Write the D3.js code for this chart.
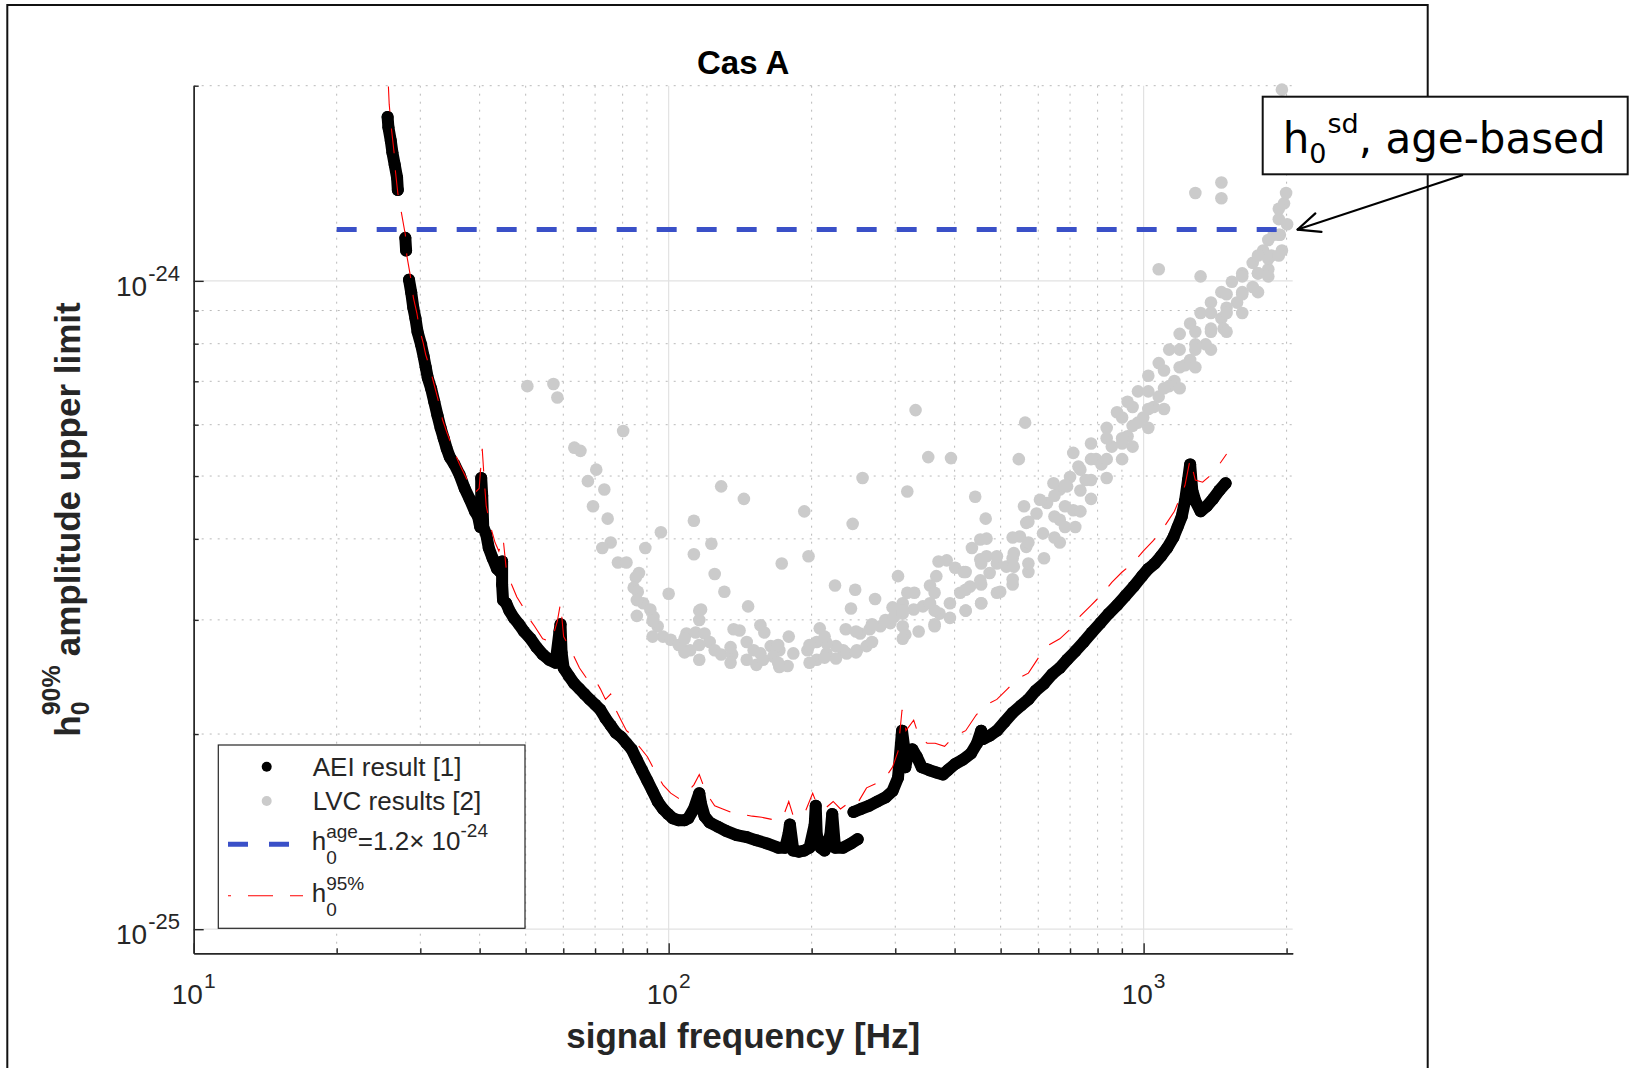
<!DOCTYPE html>
<html>
<head>
<meta charset="utf-8">
<script src="https://cdn.jsdelivr.net/npm/d3@7"></script>
<style>
  html, body { margin: 0; padding: 0; background: #fff; }
  svg { display: block; font-family: "Liberation Sans", Arial, Helvetica, sans-serif; }
  text { white-space: pre; }
</style>
</head>
<body>
<svg id="chart" width="1637" height="1068"></svg>
<script>
// ---------------------------------------------------------------------------
// Cas A: 90% confidence upper limits on the strain amplitude h0
// Amplitudes below are in units of 1e-25, frequencies in Hz.
// ---------------------------------------------------------------------------
const AMP_UNIT = 1e-25;

// AEI search result; null marks a gap between analysed bands
const aeiFreq = [
  25.6, 25.7, 26.0, 26.2, 26.5, 26.8, 26.9, null,
  27.9, 28.0, null,
  28.4, 28.7, 29.0, 29.3, 29.6, 30.1, 30.5, 30.8, 31.1, 31.6,
  32.1, 32.6, 33.1, 33.6, 34.1, 34.6, 35.4, 36.3, 37.2, 38.1,
  39.1, 39.7, 40.1, 40.3, 40.3, 40.5, 40.7, 41.3, 41.8, 42.6,
  43.5, 44.2, 44.6, 44.6, 44.8, 45.5, 46.2, 47.2, 48.4, 49.6,
  51.2, 52.7, 54.3, 56.0, 57.8, 58.9, 59.2, 59.5, 60.1, 61.7,
  63.3, 64.9, 66.5, 68.2, 70.0, 71.8, 73.6, 75.5, 77.4, 79.4,
  81.5, 83.6, 85.7, 87.9, 90.2, 92.5, 94.8, 97.3, 99.7, 102,
  105, 108, 110, 113, 116, 117, 119, 122, 127, 132,
  139, 146, 153, 161, 170, 176, 179, 180, 183, 188,
  193, 198, 203, 204, 205, 209, 213, 219, 221, 224,
  233, 242, 250, null,
  245, 254, 264, 275, 286, 296, 304, 310, 313, 315,
  319, 326, 333, 341, 354, 366, 378, 387, 401, 416,
  433, 446, 455, 460, 474, 491, 509, 530, 552, 572,
  592, 617, 642, 666, 690, 718, 748, 778, 811, 844,
  879, 915, 953, 992, 1023, 1055, 1087, 1121, 1155, 1179,
  1203, 1222, 1240, 1253, 1266, 1285, 1318, 1358, 1400, 1443, 1488
];
const aeiAmp = [
  17.9, 17.26, 16.45, 15.79, 15.10, 14.44, 13.81, null,
  11.65, 11.14, null,
  10.04, 9.608, 9.087, 8.757, 8.345, 7.982, 7.635, 7.357, 7.089, 6.831,
  6.510, 6.203, 5.933, 5.718, 5.509, 5.348, 5.211, 5.021, 4.784, 4.610,
  4.411, 4.330, 4.173, 4.576, 4.966, 4.662, 4.173, 4.064, 3.873, 3.733,
  3.597, 3.556, 3.691, 3.402, 3.218, 3.182, 3.100, 3.021, 2.954, 2.879,
  2.805, 2.723, 2.653, 2.604, 2.576, 2.879, 2.954, 2.673, 2.529, 2.455,
  2.392, 2.348, 2.305, 2.262, 2.221, 2.180, 2.116, 2.062, 2.009, 1.980,
  1.936, 1.894, 1.825, 1.759, 1.694, 1.633, 1.574, 1.533, 1.505, 1.483,
  1.472, 1.472, 1.483, 1.533, 1.621, 1.561, 1.494, 1.461, 1.439, 1.418,
  1.397, 1.387, 1.371, 1.356, 1.336, 1.336, 1.408, 1.450, 1.322, 1.317,
  1.322, 1.336, 1.450, 1.550, 1.397, 1.336, 1.322, 1.397, 1.505, 1.336,
  1.336, 1.356, 1.377, null,
  1.516, 1.533, 1.550, 1.574, 1.597, 1.633, 1.713, 2.024, 1.915, 1.778,
  1.866, 1.894, 1.845, 1.778, 1.759, 1.745, 1.732, 1.759, 1.798, 1.825,
  1.866, 1.936, 2.024, 1.966, 1.988, 2.024, 2.085, 2.157, 2.213, 2.262,
  2.331, 2.392, 2.474, 2.529, 2.604, 2.683, 2.774, 2.868, 2.966, 3.067,
  3.159, 3.266, 3.377, 3.504, 3.597, 3.664, 3.760, 3.873, 4.019, 4.173,
  4.330, 4.576, 4.929, 5.211, 4.750, 4.576, 4.411, 4.492, 4.610, 4.750, 4.874
];

// 95% confidence upper limit
const h95Freq = [
  25.7, 25.8, 26.1, 26.4, 26.6, 26.9, 27.4, 27.9, 28.1, 28.6,
  29.0, 29.5, 29.9, 30.4, 30.8, 31.3, 31.8, 32.4, 33.0, 33.4,
  34.1, 34.8, 35.5, 36.3, 37.2, 38.1, 39.1, 39.9, 40.5, 40.9,
  41.3, 42.2, 43.1, 43.9, 44.8, 45.5, 46.7, 47.9, 49.1, 50.4,
  52.2, 54.3, 56.6, 58.3, 59.2, 60.1, 62.6, 64.9, 67.2, 69.3,
  71.8, 73.6, 75.5, 77.4, 79.4, 81.5, 84.0, 86.6, 90.2, 93.9,
  97.3, 101, 105, 109, 113, 116, 120, 125, 130, 135,
  142, 150, 157, 165, 174, 179, 183, 193, 201, 205,
  213, 222, 230, 238, 248, 261, 275, 286, 296, 304,
  310, 316, 328, 336, 350, 364, 381, 401, 422, 444,
  467, 491, 517, 544, 572, 601, 632, 666, 700, 736,
  775, 815, 857, 901, 948, 998, 1049, 1104, 1161, 1222,
  1253, 1285, 1331, 1386, 1443, 1495
];
const h95Amp = [
  19.94, 18.73, 17.07, 15.85, 14.72, 13.66, 12.69, 11.78, 10.94, 10.16,
  9.432, 8.921, 8.407, 8.041, 7.691, 7.411, 7.089, 6.730, 6.391, 6.111,
  5.845, 5.613, 5.408, 5.211, 5.021, 4.838, 4.714, 4.784, 5.509, 4.929,
  4.492, 4.173, 3.948, 3.830, 4.019, 3.597, 3.402, 3.254, 3.159, 3.043,
  2.933, 2.805, 2.774, 2.987, 3.182, 2.827, 2.673, 2.529, 2.437, 2.455,
  2.348, 2.262, 2.305, 2.180, 2.101, 2.024, 1.988, 1.915, 1.845, 1.745,
  1.670, 1.621, 1.591, 1.621, 1.670, 1.732, 1.621, 1.550, 1.533, 1.516,
  1.505, 1.494, 1.488, 1.477, 1.488, 1.574, 1.494, 1.505, 1.621, 1.561,
  1.533, 1.574, 1.533, 1.561, 1.550, 1.652, 1.682, 1.713, 1.778, 1.880,
  2.180, 2.024, 2.101, 1.988, 1.936, 1.936, 1.915, 1.988, 2.024, 2.140,
  2.221, 2.262, 2.348, 2.437, 2.483, 2.624, 2.744, 2.805, 2.901, 3.043,
  3.159, 3.279, 3.427, 3.556, 3.664, 3.830, 3.978, 4.173, 4.411, 4.838,
  5.309, 4.929, 4.892, 5.021, 5.211, 5.408
];

// LVC results
const lvcFreq = [
  50.4, 57.2, 58.3, 63.3, 65.2, 80.2, 70.4, 67.6, 73.2, 69.3,
  74.4, 75.5, 72.5, 78.2, 81.5, 86.6, 85.3, 84.4, 86.1, 89.3,
  96.3, 100, 88.4, 91.5, 92.9, 94.8, 97.3, 101, 105, 108,
  111, 109, 114, 113, 113, 123, 125, 129, 131, 116,
  117, 116, 119, 122, 125, 129, 136, 137, 141, 144,
  147, 156, 159, 151, 156, 164, 171, 166, 153, 158,
  171, 178, 179, 173, 193, 197, 183, 196, 205, 215,
  225, 233, 208, 205, 215, 224, 236, 225, 237, 249,
  261, 242, 247, 244, 256, 253, 265, 279, 293, 272,
  296, 304, 318, 352, 393, 286, 298, 311, 328, 343,
  355, 315, 311, 318, 329, 355, 366, 370, 385, 401,
  418, 372, 391, 411, 431, 453, 474, 491, 442, 465,
  435, 453, 467, 499, 453, 467, 491, 546, 563, 560,
  711, 514, 533, 549, 566, 595, 626, 666, 700, 729,
  533, 566, 614, 666, 711, 646, 690, 605, 775, 794,
  836, 857, 879, 925, 925, 973, 998, 1023, 1076, 1076,
  1132, 1161, 1191, 1253, 1253, 1318, 1351, 1386, 1458, 1458,
  1534, 1573, 1613, 1697, 1697, 1785, 1830, 1877, 1926, 1955,
  1975, 1995, 1955, 1975, 1076, 1318, 1473, 1458, 1458, 1285,
  331, 755, 815, 901, 973, 1049, 1132, 1222, 1285, 1386,
  1495, 1613, 1741, 1858, 2005, 1936, 1897, 1955, 336, 363,
  391, 422, 455, 491, 530, 572, 617, 666, 718,
  85.7, 85.7, 92.5, 92.5, 108, 108, 116, 116, 135, 135,
  146, 146, 170, 170, 198, 198, 213, 213, 248, 248,
  268, 268, 311, 311, 311, 363, 363, 363, 422, 422,
  422, 455, 455, 455, 530, 530, 530, 572, 572, 572,
  649, 649, 649, 683, 683, 683, 736, 736, 736, 775,
  775, 775, 836, 836, 836, 901, 901, 901, 948, 948,
  948, 1023, 1023, 1023, 1104, 1104, 1104, 1191, 1191, 1191,
  1285, 1285, 1285, 1386, 1386, 1386, 1495, 1495, 1495, 1613,
  1613, 1613, 1741, 1741, 1741, 1830, 1830, 1830, 1926, 1926,
  1926
];
const lvcAmp = [
  6.881, 6.932, 6.607, 5.530, 5.468, 5.867, 5.115, 4.910, 4.767, 4.492,
  4.298, 3.948, 3.873, 3.678, 3.678, 3.543, 3.491, 3.364, 3.315, 3.873,
  4.095, 3.291, 3.182, 3.112, 3.032, 2.933, 2.827, 2.795, 2.744, 2.693,
  2.693, 2.858, 2.868, 4.266, 3.788, 3.931, 3.530, 4.820, 3.315, 3.100,
  3.112, 2.999, 2.858, 2.774, 2.693, 2.653, 2.653, 2.901, 2.889, 4.610,
  3.147, 2.944, 2.868, 2.693, 2.663, 2.733, 2.693, 2.633, 2.557, 2.604,
  2.538, 2.547, 2.827, 3.664, 4.411, 3.760, 2.663, 2.693, 2.604, 2.663,
  2.733, 2.693, 2.911, 2.774, 2.764, 3.390, 2.901, 2.615, 2.663, 2.693,
  2.733, 3.124, 3.339, 4.219, 4.966, 2.858, 2.901, 2.933, 2.966, 3.230,
  3.136, 3.504, 4.732, 5.348, 5.329, 2.999, 3.032, 3.067, 3.112, 3.147,
  3.182, 2.847, 3.182, 3.303, 3.303, 3.390, 3.504, 3.692, 3.706, 3.611,
  3.556, 3.067, 3.182, 3.303, 3.377, 3.452, 3.543, 3.664, 4.645, 4.298,
  3.873, 3.990, 4.004, 3.315, 3.719, 3.760, 3.760, 5.309, 6.044, 4.492,
  5.428, 3.624, 3.802, 4.034, 4.234, 4.378, 4.544, 4.767, 4.984, 5.172,
  3.624, 3.888, 4.079, 4.281, 4.427, 4.874, 4.820, 4.595, 5.613, 5.309,
  5.933, 5.551, 6.272, 6.510, 5.758, 6.754, 6.157, 7.140, 7.467, 6.630,
  7.834, 7.009, 8.283, 8.595, 7.550, 8.921, 7.982, 9.258, 9.608, 8.757,
  9.970, 9.258, 10.27, 10.66, 9.786, 11.14, 10.42, 11.78, 12.45, 11.14,
  13.17, 13.66, 19.72, 18.73, 10.42, 10.16, 8.439, 14.18, 13.41, 13.66,
  6.319, 4.929, 5.211, 5.613, 6.044, 6.391, 6.881, 7.411, 7.982, 8.439,
  9.087, 9.608, 10.27, 10.94, 12.23, 11.78, 14.99, 16.76, 2.879, 2.954,
  3.021, 3.100, 3.182, 3.303, 3.402, 3.556, 3.733, 3.948, 4.173,
  3.218, 3.043, 2.987, 2.827, 2.805, 2.673, 2.744, 2.604, 2.723, 2.576,
  2.774, 2.604, 2.744, 2.576, 2.744, 2.576, 2.827, 2.624, 2.879, 2.673,
  2.954, 2.774, 3.100, 2.933, 2.805, 3.303, 3.100, 2.933, 3.556, 3.339,
  3.100, 3.664, 3.402, 3.182, 4.019, 3.733, 3.466, 4.250, 3.948, 3.664,
  4.662, 4.330, 4.019, 4.838, 4.492, 4.173, 5.115, 4.750, 4.411, 5.309,
  4.929, 4.610, 5.718, 5.309, 4.966, 6.157, 5.718, 5.309, 6.391, 5.976,
  5.551, 6.754, 6.344, 5.933, 7.273, 6.831, 6.344, 7.834, 7.357, 6.831,
  8.345, 7.834, 7.357, 8.921, 8.345, 7.834, 9.537, 8.921, 8.345, 10.16,
  9.537, 8.921, 10.94, 10.27, 9.608, 11.56, 10.82, 10.16, 12.92, 11.78,
  10.94
];

// Age-based spin-down limit
const ageLimit = 1.2e-24;
const ageLimitFreq = [20, 2000];

// Axis ranges and ticks
const xDomain = [10, 2060];
const yDomain = [9.18e-26, 2e-24];
const xMajorTicks = [10, 100, 1000];
const xMajorExp = ["1", "2", "3"];
const xMinorTicks = [20, 30, 40, 50, 60, 70, 80, 90, 200, 300, 400, 500, 600, 700, 800, 900, 2000];
const yMajorTicks = [1e-25, 1e-24];
const yMajorExp = ["-25", "-24"];
const yMinorTicks = [2e-25, 3e-25, 4e-25, 5e-25, 6e-25, 7e-25, 8e-25, 9e-25, 2e-24];

// ---------------------------------------------------------------------------
const svg = d3.select("#chart");
const plot = { left: 193.7, right: 1292.7, top: 85.7, bottom: 953.3 };
const AXIS = "#262626";

const x = d3.scaleLog().domain(xDomain).range([plot.left, plot.right]);
const y = d3.scaleLog().domain(yDomain).range([plot.bottom, plot.top]);

// outer frame
svg.append("rect")
  .attr("x", 7.3).attr("y", 5).attr("width", 1420.4).attr("height", 1100)
  .attr("fill", "none").attr("stroke", "#111").attr("stroke-width", 2);

// draws text made of plain runs, superscripts, subscripts and stacked pairs
function richText(parent, parts, opts) {
  const g = parent.append("g");
  if (opts.weight) g.attr("font-weight", opts.weight);
  if (opts.fill) g.attr("fill", opts.fill);
  if (opts.family) g.attr("font-family", opts.family);
  let cx = 0;
  parts.forEach(p => {
    if (p.text !== undefined) {
      const t = g.append("text").attr("x", cx).attr("y", p.rise ? -p.rise : 0)
        .attr("font-size", p.size || opts.size).text(p.text);
      cx += t.node().getComputedTextLength() + (p.gap || 0);
    } else {
      let w = 0;
      if (p.sup !== undefined) {
        const t = g.append("text").attr("x", cx + (p.supDx || 0)).attr("y", -p.supRise)
          .attr("font-size", p.scriptSize).text(p.sup);
        w = Math.max(w, t.node().getComputedTextLength() + (p.supDx || 0));
      }
      if (p.sub !== undefined) {
        const t = g.append("text").attr("x", cx).attr("y", p.subDrop)
          .attr("font-size", p.scriptSize).text(p.sub);
        w = Math.max(w, t.node().getComputedTextLength());
      }
      cx += w + (p.gap || 0);
    }
  });
  let shift = 0;
  if (opts.anchor === "middle") shift = -cx / 2;
  else if (opts.anchor === "end") shift = -cx;
  g.selectAll("text").attr("x", function () { return +this.getAttribute("x") + shift; });
  return g;
}

// grid: minor dotted, major solid
const grid = svg.append("g");
grid.selectAll("line.xmin").data(xMinorTicks).join("line")
  .attr("x1", d => x(d)).attr("x2", d => x(d)).attr("y1", plot.top).attr("y2", plot.bottom)
  .attr("stroke", "#b9b9b9").attr("stroke-width", 1).attr("stroke-dasharray", "2,6");
grid.selectAll("line.ymin").data(yMinorTicks).join("line")
  .attr("y1", d => y(d)).attr("y2", d => y(d)).attr("x1", plot.left).attr("x2", plot.right)
  .attr("stroke", "#b9b9b9").attr("stroke-width", 1).attr("stroke-dasharray", "2,6");
grid.selectAll("line.xmaj").data(xMajorTicks.slice(1)).join("line")
  .attr("x1", d => x(d)).attr("x2", d => x(d)).attr("y1", plot.top).attr("y2", plot.bottom)
  .attr("stroke", "#e2e2e2").attr("stroke-width", 1.2);
grid.selectAll("line.ymaj").data(yMajorTicks).join("line")
  .attr("y1", d => y(d)).attr("y2", d => y(d)).attr("x1", plot.left).attr("x2", plot.right)
  .attr("stroke", "#e2e2e2").attr("stroke-width", 1.2);

// axes with inward ticks
function styleAxis(g) {
  g.selectAll("path, line").attr("stroke", AXIS).attr("stroke-width", 1.4);
  g.selectAll("text").remove();
}
svg.append("g").attr("transform", `translate(0,${plot.bottom})`)
  .call(d3.axisBottom(x).tickValues(xMajorTicks).tickSizeInner(-10).tickSizeOuter(0).tickFormat(""))
  .call(styleAxis);
svg.append("g").attr("transform", `translate(0,${plot.bottom})`)
  .call(d3.axisBottom(x).tickValues(xMinorTicks).tickSizeInner(-5).tickSizeOuter(0).tickFormat(""))
  .call(styleAxis);
svg.append("g").attr("transform", `translate(${plot.left},0)`)
  .call(d3.axisLeft(y).tickValues(yMajorTicks).tickSizeInner(-10).tickSizeOuter(0).tickFormat(""))
  .call(styleAxis);
svg.append("g").attr("transform", `translate(${plot.left},0)`)
  .call(d3.axisLeft(y).tickValues(yMinorTicks).tickSizeInner(-5).tickSizeOuter(0).tickFormat(""))
  .call(styleAxis);

// tick labels: powers of ten
xMajorTicks.forEach((v, i) => {
  const g = richText(svg, [
    { text: "10", size: 28 },
    { sup: xMajorExp[i], scriptSize: 21, supRise: 16, supDx: 1 }
  ], { size: 28, fill: AXIS, anchor: "middle" });
  g.attr("transform", `translate(${x(v)},1004)`);
});
yMajorTicks.forEach((v, i) => {
  const g = richText(svg, [
    { text: "10", size: 28 },
    { sup: yMajorExp[i], scriptSize: 22, supRise: 15, supDx: 1 }
  ], { size: 28, fill: AXIS, anchor: "end" });
  g.attr("transform", `translate(180,${y(v) + 15})`);
});

// title and axis labels
svg.append("text").attr("x", (plot.left + plot.right) / 2).attr("y", 74)
  .attr("text-anchor", "middle").attr("font-size", 33).attr("font-weight", "bold")
  .attr("fill", "#000").text("Cas A");
svg.append("text").attr("x", (plot.left + plot.right) / 2).attr("y", 1048)
  .attr("text-anchor", "middle").attr("font-size", 35).attr("font-weight", "bold")
  .attr("fill", AXIS).text("signal frequency [Hz]");
const yLab = richText(svg, [
  { text: "h", size: 35 },
  { sup: "90%", sub: "0", scriptSize: 25, supRise: 20, subDrop: 9, gap: 9 },
  { text: "amplitude upper limit", size: 35 }
], { size: 35, weight: "bold", fill: AXIS, anchor: "middle" });
yLab.attr("transform", `translate(80,${(plot.top + plot.bottom) / 2}) rotate(-90)`);

// data layers
const lvc = lvcFreq.map((f, i) => ({ f, h: lvcAmp[i] * AMP_UNIT }));
const aei = aeiFreq.map((f, i) => ({ f, h: aeiAmp[i] === null ? null : aeiAmp[i] * AMP_UNIT }));
const h95 = h95Freq.map((f, i) => ({ f, h: h95Amp[i] * AMP_UNIT }));

svg.append("g").selectAll("circle").data(lvc).join("circle")
  .attr("cx", d => x(d.f)).attr("cy", d => y(d.h)).attr("r", 6.3)
  .attr("fill", "#cbcbcb");

const line = d3.line().defined(d => d.h !== null).x(d => x(d.f)).y(d => y(d.h));
svg.append("path").datum(aei).attr("d", line)
  .attr("fill", "none").attr("stroke", "#000").attr("stroke-width", 12)
  .attr("stroke-linejoin", "round").attr("stroke-linecap", "round");
svg.append("g").selectAll("circle").data(aei.filter(d => d.h !== null)).join("circle")
  .attr("cx", d => x(d.f)).attr("cy", d => y(d.h)).attr("r", 6).attr("fill", "#000");

svg.append("path").datum(h95).attr("d", line)
  .attr("fill", "none").attr("stroke", "#ff0000").attr("stroke-width", 1.1)
  .attr("stroke-dasharray", "25,17");

svg.append("line")
  .attr("x1", x(ageLimitFreq[0])).attr("x2", x(ageLimitFreq[1]))
  .attr("y1", y(ageLimit)).attr("y2", y(ageLimit))
  .attr("stroke", "#3a50c8").attr("stroke-width", 5).attr("stroke-dasharray", "20,20");

// legend
const lg = svg.append("g");
lg.append("rect").attr("x", 218.3).attr("y", 745).attr("width", 306.7).attr("height", 183.3)
  .attr("fill", "#fff").attr("stroke", AXIS).attr("stroke-width", 1.2);
lg.append("circle").attr("cx", 266.7).attr("cy", 766.7).attr("r", 5).attr("fill", "#000");
lg.append("circle").attr("cx", 266.7).attr("cy", 801).attr("r", 5).attr("fill", "#cbcbcb");
lg.append("line").attr("x1", 228).attr("x2", 289).attr("y1", 844.3).attr("y2", 844.3)
  .attr("stroke", "#3a50c8").attr("stroke-width", 5).attr("stroke-dasharray", "20,21");
lg.append("line").attr("x1", 228).attr("x2", 303).attr("y1", 895.7).attr("y2", 895.7)
  .attr("stroke", "#ff0000").attr("stroke-width", 1.1)
  .attr("stroke-dasharray", "25,17").attr("stroke-dashoffset", 22);
richText(lg, [{ text: "AEI result [1]", size: 26 }], { size: 26, fill: AXIS })
  .attr("transform", "translate(312.7,775.5)");
richText(lg, [{ text: "LVC results [2]", size: 26 }], { size: 26, fill: AXIS })
  .attr("transform", "translate(312.7,810)");
richText(lg, [
  { text: "h", size: 26 },
  { sup: "age", sub: "0", scriptSize: 19, supRise: 12, subDrop: 14 },
  { text: "=1.2\u00d7 10", size: 26 },
  { sup: "-24", scriptSize: 19, supRise: 13 }
], { size: 26, fill: AXIS }).attr("transform", "translate(311.7,850)");
richText(lg, [
  { text: "h", size: 26 },
  { sup: "95%", sub: "0", scriptSize: 19, supRise: 12, subDrop: 14 }
], { size: 26, fill: AXIS }).attr("transform", "translate(311.7,902)");

// annotation box with arrow to the end of the age-based limit
const ann = svg.append("g");
ann.append("rect").attr("x", 1262.7).attr("y", 96.7).attr("width", 365).attr("height", 77.6)
  .attr("fill", "#fff").attr("stroke", "#111").attr("stroke-width", 2);
richText(ann, [
  { text: "h", size: 42 },
  { sub: "0", scriptSize: 27, subDrop: 10, gap: 1 },
  { sup: "sd", scriptSize: 27, supRise: 20 },
  { text: ", age-based", size: 42 }
], { size: 42, fill: "#000", family: "'DejaVu Sans', Verdana, sans-serif" })
  .attr("transform", "translate(1282.7,153)");

const tip = [x(ageLimitFreq[1]) + 11, y(ageLimit)];
const tail = [1463, 175];
const ang = Math.atan2(tail[1] - tip[1], tail[0] - tip[0]);
ann.append("line").attr("x1", tail[0]).attr("y1", tail[1]).attr("x2", tip[0]).attr("y2", tip[1])
  .attr("stroke", "#000").attr("stroke-width", 2);
[0.42, -0.42].forEach(da => {
  ann.append("line").attr("x1", tip[0]).attr("y1", tip[1])
    .attr("x2", tip[0] + 24 * Math.cos(ang + da)).attr("y2", tip[1] + 24 * Math.sin(ang + da))
    .attr("stroke", "#000").attr("stroke-width", 2.2).attr("stroke-linecap", "round");
});
</script>
</body>
</html>
